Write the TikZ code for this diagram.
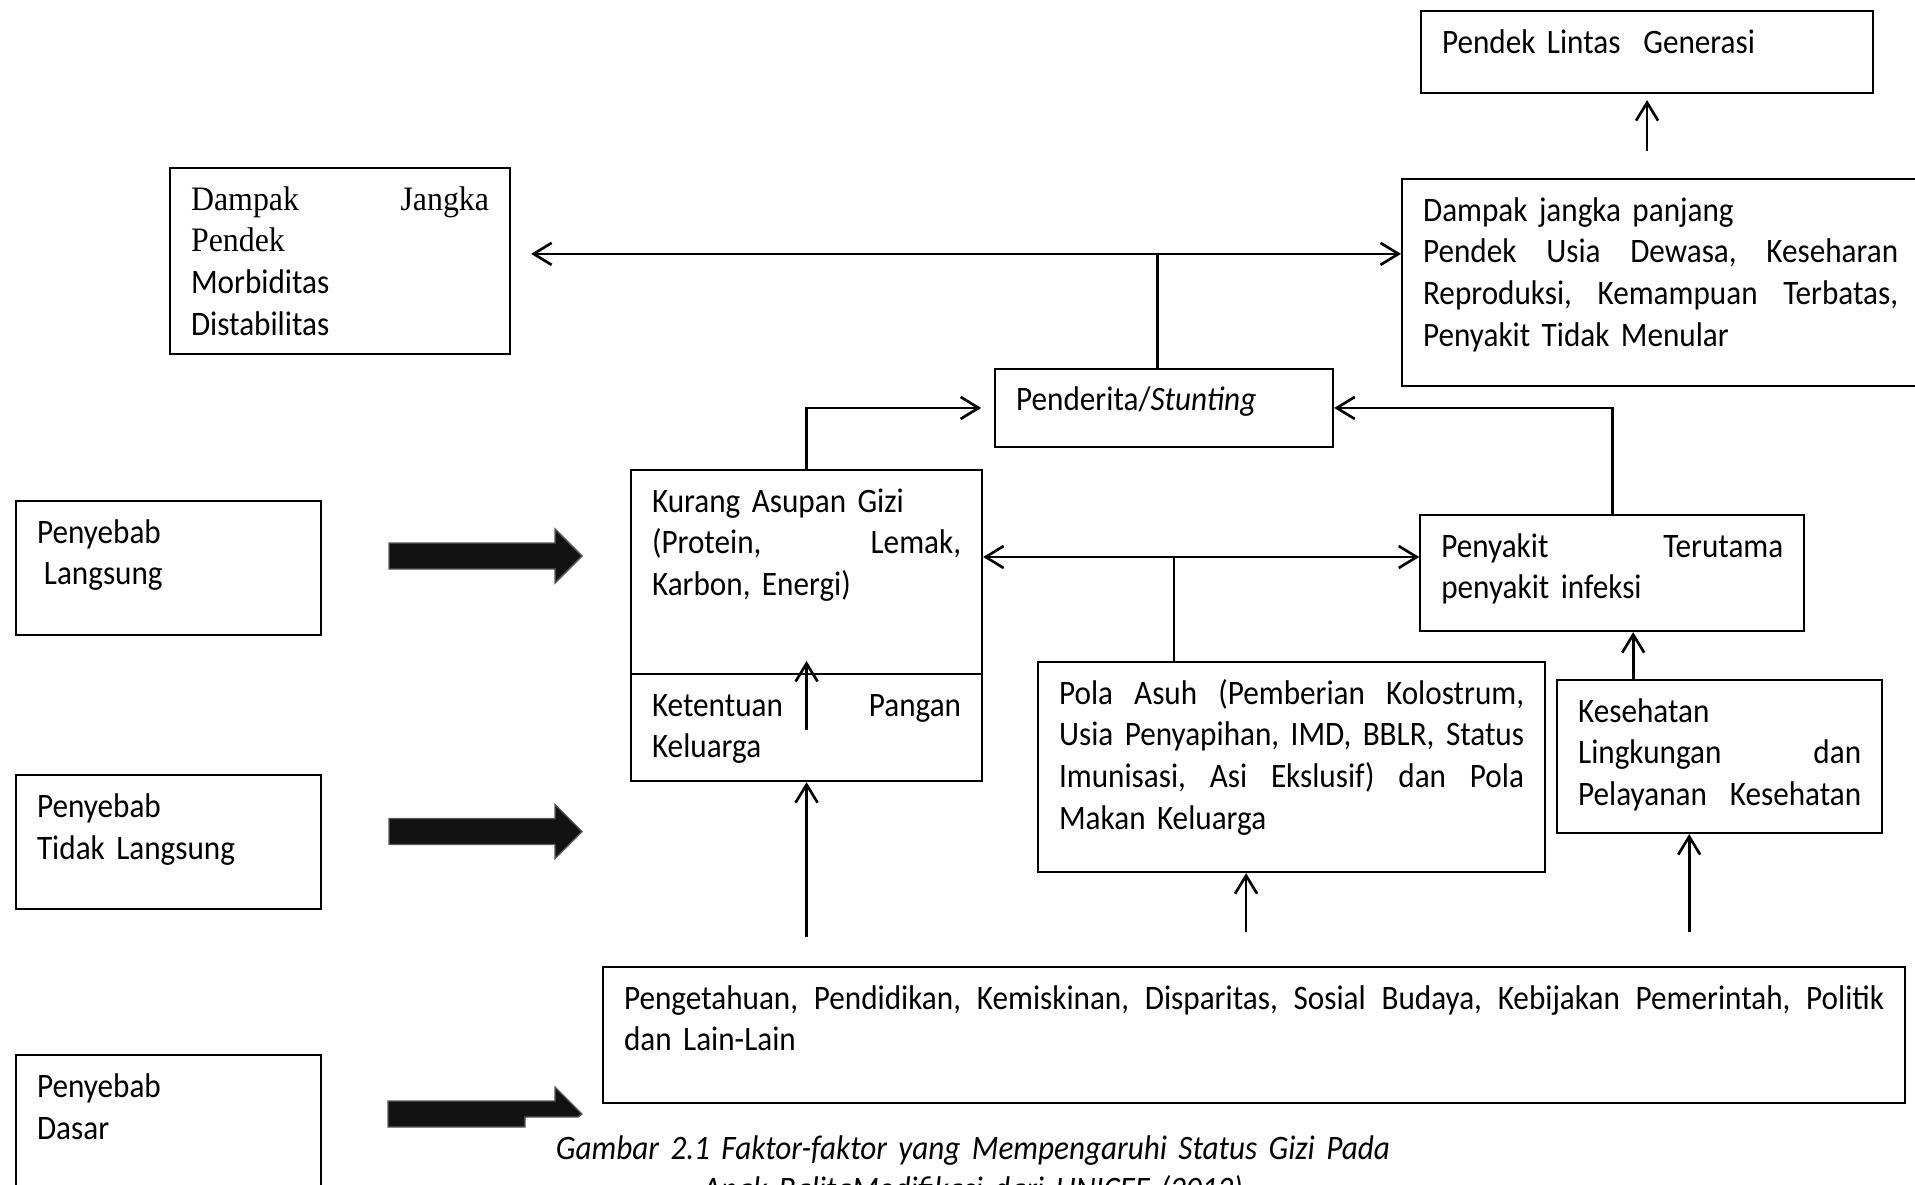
\documentclass[tikz,border=0pt]{standalone}
\usepackage{fontspec}
\setmainfont{Carlito}[FakeStretch=0.91]
\newfontfamily\timesfont{Liberation Serif}[FakeStretch=0.93]
\usetikzlibrary{arrows.meta, positioning, calc}
\hyphenpenalty=10000
\newcommand{\sela}{~\hfill\ignorespaces}

\begin{document}
\begin{tikzpicture}[
  box/.style 2 args={draw, line width=0.6pt, text width=#1, text height=0.3cm, text depth=#2, inner xsep=0.21cm, inner ysep=0.12cm, align=left, font=\fontsize{9.75}{11.9}\selectfont},
  arr/.style={-{Straight Barb[length=1.8mm, width=2.2mm]}, line width=0.75pt},
  darr/.style={{Straight Barb[length=1.8mm, width=2.2mm]}-{Straight Barb[length=1.8mm, width=2.2mm]}, line width=0.75pt},
  line/.style={line width=0.75pt},
  blockarrow/.style={fill=black!93, draw=black!65, line width=0.4pt}
]
\useasboundingbox (0,0) rectangle (19.15,-11.84);

% dampak
\node[box={2.98cm}{1.32cm}, anchor=north west] (pendek) at (1.69,-1.67) {{\timesfont Dampak\hfill Jangka}\\{\timesfont Pendek}\\Morbiditas\\Distabilitas};
\node[box={4.10cm}{0.28cm}, anchor=north west] (gen) at (14.20,-0.10) {Pendek Lintas\ \ Generasi};
\node[box={4.75cm}{1.53cm}, anchor=north west] (panjang) at (14.01,-1.78) {Dampak jangka panjang\\Pendek\sela Usia\sela Dewasa,\sela Keseharan\\Reproduksi,\sela Kemampuan\sela Terbatas,\\Penyakit Tidak Menular};

% penyebab langsung
\node[box={3.09cm}{1.50cm}, anchor=north west] (asupan) at (6.30,-4.69) {Kurang Asupan Gizi\\(Protein,\sela Lemak,\\Karbon, Energi)};
\node[box={3.09cm}{0.53cm}, below=-0.6pt of asupan] (pangan) {Ketentuan\sela Pangan\\Keluarga};
\node[box={2.96cm}{0.24cm}, above right=0.21cm and 0.11cm of asupan.north east] (stunt) {Penderita/\textit{Stunting}};
\node[box={3.42cm}{0.62cm}, below right=0.66cm and 0.85cm of stunt.south east] (infeksi) {Penyakit\sela Terutama\\penyakit infeksi};

% penyebab tidak langsung
\node[box={4.65cm}{1.56cm}, anchor=north west] (asuh) at (10.37,-6.61) {Pola\sela Asuh\sela (Pemberian\sela Kolostrum,\\Usia\sela Penyapihan,\sela IMD,\sela BBLR,\sela Status\\Imunisasi,\sela Asi\sela Ekslusif)\sela dan\sela Pola\\Makan Keluarga};
\node[box={2.83cm}{0.99cm}, below right=0.18cm and 0.10cm of asuh.north east] (sehat) {Kesehatan\\Lingkungan\sela dan\\Pelayanan\sela Kesehatan};

% penyebab dasar
\node[box={12.60cm}{0.82cm}, anchor=north west] (dasar) at (6.02,-9.66) {Pengetahuan,\sela Pendidikan,\sela Kemiskinan,\sela Disparitas,\sela Sosial\sela Budaya,\sela Kebijakan\sela Pemerintah,\sela Politik\\dan Lain-Lain};

% kolom kiri
\node[box={2.63cm}{0.80cm}, anchor=north west] (pL) at (0.15,-5.00) {Penyebab\\ \hspace*{.2em}Langsung};
\node[box={2.63cm}{0.80cm}, below=1.38cm of pL] (pTL) {Penyebab\\Tidak Langsung};
\node[box={2.63cm}{0.96cm}, below=1.44cm of pTL] (pD) {Penyebab\\Dasar};

\coordinate (hubA) at ($(stunt.north)+(-0.07,1.14)$);
\coordinate (hubB) at ($(asuh.north west)+(1.37,1.04)$);

\draw[line] (hubA) -- (hubA |- stunt.north);
\draw[darr] ([xshift=2mm]hubA -| pendek.east) -- (hubA -| panjang.west);
\draw[arr] ([yshift=2.7mm]gen.south |- panjang.north) -- ([yshift=-0.6mm]gen.south);
\draw[arr] (asupan.north) |- ([xshift=-1.3mm]stunt.west);
\draw[arr] (infeksi.north) |- (stunt.east);
\draw[darr] (hubB -| asupan.east) -- (hubB -| infeksi.west);
\draw[line] (hubB) -- (hubB |- asuh.north);
\draw[arr] ([yshift=-5.7mm]pangan.north) -- ([yshift=1.2mm]pangan.north);
\draw[arr] ([xshift=-8.65mm]sehat.north) -- ([xshift=-8.65mm]sehat.north |- infeksi.south);
\draw[arr] ([yshift=2.9mm]pangan.south |- dasar.north) -- (pangan.south);
\draw[arr] ([xshift=-4.55mm, yshift=3.4mm]asuh.south |- dasar.north) -- ([xshift=-4.55mm]asuh.south);
\draw[arr] ([xshift=-3.05mm, yshift=3.4mm]sehat.south |- dasar.north) -- ([xshift=-3.05mm]sehat.south);

% panah tebal
\foreach \y in {-5.56,-8.315}
  \fill[blockarrow] (3.89,\y+0.13) -- (5.55,\y+0.13) -- (5.55,\y+0.27) -- (5.82,\y) -- (5.55,\y-0.27) -- (5.55,\y-0.13) -- (3.89,\y-0.13) -- cycle;
\fill[blockarrow] (3.88,-11.01) -- (5.55,-11.01) -- (5.55,-10.87) -- (5.82,-11.14) -- (5.78,-11.17) -- (5.25,-11.17) -- (5.25,-11.27) -- (3.88,-11.27) -- cycle;

\node[text width=10cm, align=center, anchor=base, font=\fontsize{9.75}{11.9}\selectfont\itshape] (judul) at (9.73,-11.59) {Gambar 2.1 Faktor-faktor yang Mempengaruhi Status Gizi Pada\\Anak BalitaModifikasi dari UNICEF (2012)};
\end{tikzpicture}
\end{document}
